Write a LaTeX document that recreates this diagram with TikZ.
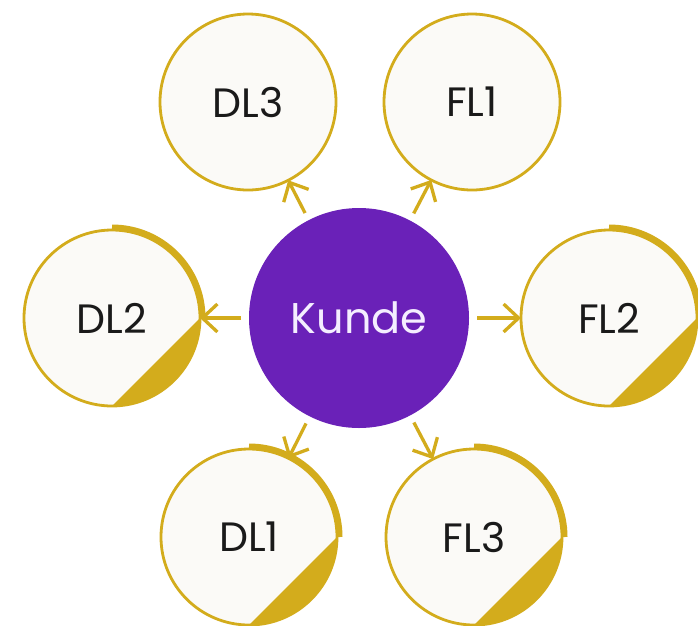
\documentclass[tikz,border=0pt]{standalone}
\usepackage{fontspec}
\setmainfont{Poppins}
\usetikzlibrary{arrows.meta}
\definecolor{gold}{HTML}{D3AC1C}
\definecolor{purp}{HTML}{6A21B8}
\definecolor{paper}{HTML}{FBFAF7}
\definecolor{ink}{HTML}{1A1A1A}
\definecolor{klabel}{HTML}{F4EEFF}
\tikzset{
  outer/.style={circle, draw=gold, line width=2.8pt, fill=paper, minimum size=176pt,
    inner sep=0pt, outer sep=0pt, text=ink, font=\fontsize{41}{48}\selectfont},
  center/.style={circle, fill=purp, minimum size=220pt, inner sep=0pt, outer sep=0pt,
    text=klabel, font=\fontsize{43}{50}\selectfont},
  arr/.style={draw=gold, line width=3.3pt, shorten <=8pt,
    -{Straight Barb[length=15pt,width=28pt,line width=3.3pt]}},
  thickarc/.style={draw=gold, line width=6pt},
  seg/.style={fill=gold}
}
\begin{document}
\begin{tikzpicture}[x=1pt,y=-1pt]
\clip (0,0) rectangle (698,625);
\fill[white] (0,0) rectangle (698,625);
\node[center] (K) at (359,318) {Kunde};
\node[outer] (DL3) at (248,102) {DL3};
\node[outer] (FL1) at (472,102) {FL1};
\node[outer] (DL2) at (112,318) {DL2};
\node[outer] (FL2) at (609,318) {FL2};
\node[outer] (DL1) at (249,537) {DL1};
\node[outer] (FL3) at (474,537) {FL3};
\foreach \n in {DL2,FL2,DL1,FL3}{
  \draw[thickarc] (\n.center) ++(90:90.5pt) arc[start angle=90,end angle=0,radius=90.5pt];
  \fill[seg] (\n.0) arc[start angle=0,end angle=-90,radius=88pt] -- cycle;
}
\foreach \n in {DL3,FL1,DL2,FL2,DL1,FL3}{
  \draw[arr] (K) -- (\n);
}
\end{tikzpicture}
\end{document}
